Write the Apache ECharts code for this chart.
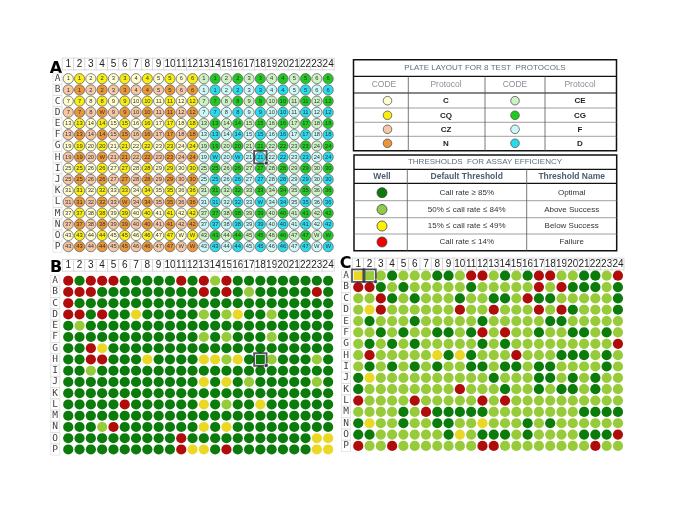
<!DOCTYPE html>
<html><head><meta charset="utf-8">
<script src="https://cdn.jsdelivr.net/npm/echarts@6/dist/echarts.min.js"></script>
<style>html,body{margin:0;padding:0;background:#fff}#c{width:685px;height:513px}</style>
</head><body><div id="c"></div>
<script>
// ---------- tick labels ----------
const columns = ['1','2','3','4','5','6','7','8','9','10','11','12','13','14','15','16','17','18','19','20','21','22','23','24'];
const rows = ['A','B','C','D','E','F','G','H','I','J','K','L','M','N','O','P'];

// ---------- Panel A : plate layout (protocol code per well) ----------
// a=C b=CQ c=CZ d=N | e=CE f=CG g=F h=D
const plateA_codes = [
 'abababababab efefefefefef',
 'cdcdcdcdcdcd ghghghghghgh',
 'abababababab efefefefefef',
 'cdcdcdcdcdcd ghghghghghgh',
 'abababababab efefefefefef',
 'cdcdcdcdcdcd ghghghghghgh',
 'abababababab efefefefefef',
 'cdcdcdcdcdcd ghghghghghgh',
 'abababababab efefefefefef',
 'cdcdcdcdcdcd ghghghghghgh',
 'abababababab efefefefefef',
 'cdcdcdcdcdcd ghghghghghgh',
 'abababababab efefefefefef',
 'cdcdcdcdcdcd ghghghghghgh',
 'abababababab efefefefefef',
 'cdcdcdcdcdcd ghghghghghgh'
];
const plateA_labels = [
 '1 1 2 2 3 3 4 4 5 5 6 6 1 1 2 2 3 3 4 4 5 5 6 6',
 '1 1 2 2 3 3 4 4 5 5 6 6 1 1 2 2 3 3 4 4 5 5 6 6',
 '7 7 8 8 9 9 10 10 11 11 12 12 7 7 8 8 9 9 10 10 11 11 12 12',
 '7 7 8 W 9 9 10 10 11 11 12 12 7 7 8 8 9 9 10 10 11 11 12 12',
 '13 13 14 14 15 15 16 16 17 17 18 18 13 13 14 14 15 15 16 16 17 17 18 18',
 '13 13 14 14 15 15 16 16 17 17 18 18 13 13 14 14 15 15 16 16 17 17 18 18',
 '19 19 20 20 21 21 22 22 23 23 24 24 19 19 20 20 21 21 22 22 23 23 24 24',
 '19 19 20 W 21 21 22 22 23 23 24 24 19 W 20 W 21 21 22 22 23 23 24 24',
 '25 25 26 26 27 27 28 28 29 29 30 30 25 25 26 26 27 27 28 28 29 29 30 30',
 '25 25 26 26 27 27 28 28 29 29 30 30 25 25 26 26 27 27 28 28 29 29 30 30',
 '31 31 32 32 33 33 34 34 35 35 36 36 31 31 32 32 33 33 34 34 35 35 36 36',
 '31 31 32 32 33 W 34 34 35 35 36 36 31 31 32 32 33 W 34 34 35 35 36 36',
 '37 37 38 38 39 39 40 40 41 41 42 42 37 37 38 38 39 39 40 40 41 41 42 42',
 '37 37 38 38 39 39 40 40 41 41 42 42 37 37 38 38 39 39 40 40 41 41 42 42',
 '43 43 44 44 45 45 46 46 47 47 W W 43 43 44 44 45 45 46 46 47 47 W W',
 '43 43 44 44 45 45 46 46 47 47 W W 43 43 44 44 45 45 46 46 47 47 W W'
];

// ---------- Panel B and C : call-rate status per well ----------
// G=Optimal  L=Above Success  Y=Below Success  R=Failure
const plateB_status = [
 'RGRRRGGGGGRGRLRGGGGGGGGG',
 'RRRGGGGGGGGGRGRGLGGGGGRG',
 'RGGGGGGGGGGGGGGGGGGGGGGG',
 'RRGRGGYGGGGGLGLYGGLGGGGG',
 'GLGGGGGGGGGGGGGGGGGGGGGG',
 'GGGGGGGGGGGGLGLGGGLGGGGG',
 'GGRYGGGGGGGGGGGGGGGGGGGG',
 'GGRRGGGYGGGGYYLYGGLGGGLG',
 'GGLGGGGGGGGGGGGGGGGGGGGG',
 'GGGGGGGGGGGGYGYGLGGGGGLG',
 'GGGGGGGGGGGGGGGGGGGGGGGG',
 'GGGGGRGGGGGGYGLGGYGGGGGG',
 'GGGGGGGGGGGGGGGGGGGGGGGG',
 'GGGLRGGGGGGGYGYGGGGGGGGG',
 'GGGGGGGGGGRGGGGGGGGGGGYY',
 'GGGGGGGGGGRYYGRGGGGGGGYY'
];
const plateC_status = [
 'YLLGLLLGGLRRLGLGRRLLGGLR',
 'RRGLGLLLLLGLLLLLRLRGGGLG',
 'LLRGLGLLLGLLGGLRGGLLLLLG',
 'LYRLLLLLLRLLRLLLRLRGLLLG',
 'LGLLLGLLLLLGLLLLLGGLLLLL',
 'LLGLGLLGGLGRLRLLGLLGGLGL',
 'LGLGLGLLLLLGLGLLLLLLLLLR',
 'LRLLLLLYGYGLLLRLLLGGGLGL',
 'LGLGLGLGLLGGLGGLGGLLLLGL',
 'GYLLLLLLLLLLGLLLGGLGLGLL',
 'GLLLLLLLLRLLLGLLGLGGLGLL',
 'RLLLLRLLLLLRLRLLLLLLLLLL',
 'LLLLGLRGGGGGLLLLLLLLGGGG',
 'GYLLGLLGGLLYLLLGLGLLLLLL',
 'GGLLLLLLGYLGGGLGLLLLGGGR',
 'RLLRLLLLLLLRRLLLLLLLLRLL'
];
// selected wells [column index, row index]
const selA = [[17,7]];
const selB = [[17,7]];
const selC = [[0,0],[1,0]];

// legend tables
const protoLeft = [['a','C'],['b','CQ'],['c','CZ'],['d','N']];
const protoRight = [['e','CE'],['f','CG'],['g','F'],['h','D']];
const thrRows = [
 ['G','Call rate \u2265 85%','Optimal'],
 ['L','50% \u2264 call rate \u2264 84%','Above Success'],
 ['Y','15% \u2264 call rate \u2264 49%','Below Success'],
 ['R','Call rate \u2264 14%','Failure']
];

// ---------- styles ----------
const protoColor = {a:'#FFFFD0', b:'#F8EE10', c:'#F6C7A4', d:'#EC9636', e:'#CDF2C4', f:'#1FCB1F', g:'#CDF8F8', h:'#27DCEC'};
const statusColor = {G:'#0B7C0B', L:'#98CB3A', Y:'#EAD824', R:'#B00C0C'};
const legendStatusColor = {G:'#0A7A0A', L:'#8FCC4C', Y:'#FFF200', R:'#F20000'};
const FONT = 'Liberation Sans';

const chart = echarts.init(document.getElementById('c'));

const grids = [
 {left:62.6, top:73.1, width:271.2, height:179.2},
 {left:62.6, top:275.1, width:271.2, height:180},
 {left:352.6, top:270, width:271, height:181.6}
];
const xMargins = [9.1, 9.8, 6];
const yMargins = [5.1, 7.4, 6.6];

function xAxis(gi){
  return {gridIndex:gi, type:'category', data:columns, position:'top',
    axisLine:{show:false}, axisTick:{show:false}, splitLine:{show:false},
    axisLabel:{interval:0, margin:xMargins[gi], fontSize:10, fontFamily:FONT, color:'#222',
      width:grids[gi].width/24, height:11, lineHeight:11, align:'center', verticalAlign:'middle',
      borderColor:'#cfcfcf', borderWidth:0.8, padding:0, backgroundColor:'#fff'}};
}
function yAxis(gi){
  return {gridIndex:gi, type:'category', data:rows, inverse:true,
    axisLine:{show:false}, axisTick:{show:false}, splitLine:{show:false},
    axisLabel:{interval:0, margin:yMargins[gi], fontSize:9.5, fontFamily:'DejaVu Sans Mono', color:'#444',
      width:9, height:grids[gi].height/16, lineHeight:grids[gi].height/16, align:'center', verticalAlign:'middle',
      borderColor:'#d8d8d8', borderWidth:0.6, padding:0}};
}

// data for A
const dataA = [];
plateA_codes.forEach((s, r) => {
  const codes = s.replace(' ', '').split('');
  const labs = plateA_labels[r].split(' ');
  codes.forEach((k, c) => dataA.push({value:[c, r], name:labs[c], itemStyle:{color:protoColor[k]}}));
});
function statusData(arr, rectCells){
  const out = [];
  arr.forEach((s, r) => s.split('').forEach((k, c) => {
    const isRect = rectCells.some(p => p[0]===c && p[1]===r);
    const d = {value:[c, r], itemStyle:{color:statusColor[k]}};
    if (isRect) { d.symbol = 'rect'; d.symbolSize = 9; }
    out.push(d);
  }));
  return out;
}
const dataB = statusData(plateB_status, selB);
const dataC = statusData(plateC_status, selC);

function selSeries(gi, cells){
  return {type:'scatter', xAxisIndex:gi, yAxisIndex:gi, z:5, silent:true,
    symbol:'rect', symbolSize:12.5,
    itemStyle:{color:'rgba(0,0,0,0)', borderColor:'#2b2b3b', borderWidth:1.8},
    data:cells.map(p => ({value:p}))};
}
function handleSeries(gi, cells){
  return {type:'scatter', xAxisIndex:gi, yAxisIndex:gi, z:6, silent:true,
    symbol:'rect', symbolSize:3.5, symbolOffset:[6,6],
    itemStyle:{color:'#2b2b3b', borderColor:'#fff', borderWidth:0.6},
    data:[{value:cells[cells.length-1]}]};
}

// ---------- legend table graphics ----------
const g = [];
function line(x1,y1,x2,y2,color,w){ g.push({type:'line', silent:true, shape:{x1,y1,x2,y2}, style:{stroke:color, lineWidth:w}}); }
function text(x,y,t,opt){ g.push({type:'text', silent:true, x, y, style:Object.assign({text:t, fontFamily:FONT, fontSize:8, fill:'#222', align:'center', verticalAlign:'middle'}, opt||{})}); }
function circ(x,y,r,fill,stroke){ g.push({type:'circle', silent:true, shape:{cx:x, cy:y, r}, style:{fill, stroke:stroke||'#555', lineWidth:0.8}}); }

// panel letters
text(56, 69, 'A', {fontSize:16, fontWeight:'bold', fill:'#000', fontFamily:'DejaVu Sans'});
text(56, 268, 'B', {fontSize:16, fontWeight:'bold', fill:'#000', fontFamily:'DejaVu Sans'});
text(345.5, 264, 'C', {fontSize:16, fontWeight:'bold', fill:'#000', fontFamily:'DejaVu Sans'});

// table 1
g.push({type:'rect', silent:true, shape:{x:353.5, y:59.7, width:263, height:91}, style:{fill:'none', stroke:'#111', lineWidth:1.5}});
line(353.5,76.3,616.5,76.3,'#111',1.3);
line(353.5,93,616.5,93,'#111',1.2);
[108,122.3,136.3].forEach(y => line(353.5,y,616.5,y,'#777',0.7));
[408.3,485,545].forEach(x => line(x,76.3,x,150.7,'#555',0.8));
text(485, 68.2, 'PLATE LAYOUT FOR 8 TEST  PROTOCOLS', {fill:'#5c6f80', fontSize:8});
[[384,'CODE'],[446,'Protocol'],[515,'CODE'],[580,'Protocol']].forEach(p => text(p[0], 84.7, p[1], {fill:'#8a8f96', fontSize:8.5}));
const t1y = [100.7,115.3,129.3,143.3];
protoLeft.forEach((p,i) => { circ(387.5, t1y[i], 4.3, protoColor[p[0]]); text(446, t1y[i], p[1], {fontWeight:'bold', fontSize:8}); });
protoRight.forEach((p,i) => { circ(515, t1y[i], 4.3, protoColor[p[0]]); text(580, t1y[i], p[1], {fontWeight:'bold', fontSize:8}); });

// table 2
g.push({type:'rect', silent:true, shape:{x:354, y:155, width:262.7, height:95.7}, style:{fill:'none', stroke:'#111', lineWidth:1.5}});
line(354,169.3,616.7,169.3,'#111',1.3);
line(354,183.3,616.7,183.3,'#111',1.2);
[200.7,217.7,234].forEach(y => line(354,y,616.7,y,'#777',0.7));
[407.3,526.7].forEach(x => line(x,169.3,x,250.7,'#555',0.8));
text(485, 162.2, 'THRESHOLDS  FOR ASSAY EFFICIENCY', {fill:'#5c6f80', fontSize:8});
[[382,'Well'],[466.7,'Default Threshold'],[571.7,'Threshold Name']].forEach(p => text(p[0], 176.3, p[1], {fill:'#4b5d6e', fontSize:8.5, fontWeight:'bold'}));
const t2y = [192.7,209.5,226,242];
thrRows.forEach((p,i) => { circ(382, t2y[i], 5, legendStatusColor[p[0]], '#444'); text(466.7, t2y[i], p[1], {fontSize:8, fill:'#333'}); text(571.7, t2y[i], p[2], {fontSize:8, fill:'#333'}); });

chart.setOption({
  animation:false,
  backgroundColor:'#fff',
  grid:grids,
  xAxis:[xAxis(0), xAxis(1), xAxis(2)],
  yAxis:[yAxis(0), yAxis(1), yAxis(2)],
  series:[
    {type:'scatter', xAxisIndex:0, yAxisIndex:0, symbolSize:10.2, data:dataA,
     itemStyle:{borderColor:'#666', borderWidth:0.8, opacity:1},
     label:{show:true, position:'inside', formatter:p => p.name, fontSize:5.8, fontFamily:FONT, color:'#333'}},
    {type:'scatter', xAxisIndex:1, yAxisIndex:1, symbolSize:10.2, data:dataB, itemStyle:{opacity:1}},
    {type:'scatter', xAxisIndex:2, yAxisIndex:2, symbolSize:10.2, data:dataC, itemStyle:{opacity:1}},
    selSeries(0, selA), handleSeries(0, selA),
    selSeries(1, selB), handleSeries(1, selB),
    selSeries(2, selC), handleSeries(2, selC)
  ],
  graphic:g
});
</script></body></html>
